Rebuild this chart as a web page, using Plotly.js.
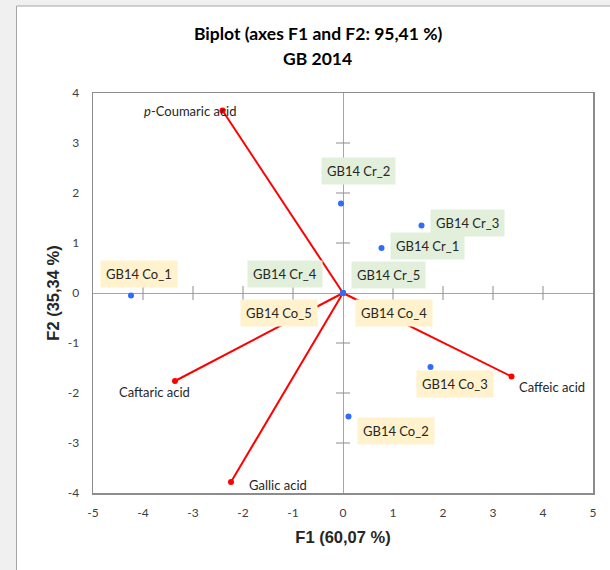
<!DOCTYPE html>
<html>
<head>
<meta charset="utf-8">
<script src="https://cdn.plot.ly/plotly-3.0.1.min.js"></script>
<style>html,body{margin:0;padding:0;background:#f0f0f0;}#chart{width:610px;height:570px;}</style>
</head>
<body>
<div id="chart"></div>
<script>
// ---- data ----
const obsNames = ["GB14 Co_1","GB14 Co_2","GB14 Co_3","GB14 Co_4","GB14 Co_5","GB14 Cr_1","GB14 Cr_2","GB14 Cr_3","GB14 Cr_4","GB14 Cr_5"];
const obsF1 = [-4.24, 0.11, 1.75, 0.00, 0.00, 0.77, -0.04, 1.57, 0.00, 0.00];
const obsF2 = [-0.05, -2.47, -1.48, 0.00, 0.00, 0.90, 1.79, 1.35, 0.00, 0.00];
const obsGroup = ["Co","Co","Co","Co","Co","Cr","Cr","Cr","Cr","Cr"];
const varNames = ["<i>p</i>-Coumaric acid","Caftaric acid","Gallic acid","Caffeic acid"];
const varF1 = [-2.41, -3.36, -2.24, 3.37];
const varF2 = [3.65, -1.76, -3.78, -1.67];
const xTicks = [-5,-4,-3,-2,-1,0,1,2,3,4,5];
const yTicks = [-4,-3,-2,-1,0,1,2,3,4];

// ---- styling / label placement (pixels) ----
const obsLabelShift = [[8,22],[47,-14],[24,-17],[51,-19.5],[-64,-19.5],[46,2],[17,33],[46,3],[-58,19],[45,18]];
const varLabelShift = [[-32,0],[-21,-11],[47,-3],[40,-10]];
const groupFill = {Co:"#fff2cc", Cr:"#e2efda"};
const tickGray = "#8c8c8c";

const traces = [];
// red vectors from origin
varNames.forEach((n,i)=>{
  traces.push({x:[0,varF1[i]], y:[0,varF2[i]], mode:"lines", type:"scatter",
    line:{color:"#ff0000", width:2}, hoverinfo:"skip", showlegend:false});
});
traces.push({x:varF1, y:varF2, mode:"markers", type:"scatter",
  marker:{color:"#ff0000", size:6}, showlegend:false, hoverinfo:"skip"});
// tick crosses on the zero axes
const xt = xTicks.filter(v=>v!==0 && Math.abs(v)<5);
const yt = yTicks.filter(v=>v!==0 && Math.abs(v)<4);
traces.push({x:xt, y:xt.map(()=>0), mode:"markers", type:"scatter",
  marker:{symbol:"line-ns-open", size:10, color:tickGray, line:{color:tickGray, width:1}}, showlegend:false, hoverinfo:"skip"});
traces.push({x:yt.map(()=>0), y:yt, mode:"markers", type:"scatter",
  marker:{symbol:"line-ew-open", size:10, color:tickGray, line:{color:tickGray, width:1}}, showlegend:false, hoverinfo:"skip"});
// observations
traces.push({x:obsF1, y:obsF2, mode:"markers", type:"scatter",
  marker:{color:"#2f6bff", size:6}, showlegend:false, hoverinfo:"skip"});

const annotations = [];
obsNames.forEach((n,i)=>{
  annotations.push({x:obsF1[i], y:obsF2[i], xref:"x", yref:"y", text:n, showarrow:false,
    xshift:obsLabelShift[i][0], yshift:obsLabelShift[i][1],
    bgcolor:groupFill[obsGroup[i]], borderpad:5,
    font:{family:"Lato, 'Open Sans', sans-serif", size:13, color:"#262626"}});
});
varNames.forEach((n,i)=>{
  annotations.push({x:varF1[i], y:varF2[i], xref:"x", yref:"y", text:n, showarrow:false,
    xshift:varLabelShift[i][0], yshift:varLabelShift[i][1],
    font:{family:"Lato, 'Open Sans', sans-serif", size:13, color:"#262626"}});
});
annotations.push({x:0.449, y:1.15, xref:"paper", yref:"paper", xanchor:"center", yanchor:"middle", showarrow:false,
  text:"<b>Biplot (axes F1 and F2: 95,41 %)</b>", font:{family:"Lato, sans-serif", size:17.5, color:"#000"}});
annotations.push({x:0.449, y:1.0875, xref:"paper", yref:"paper", xanchor:"center", yanchor:"middle", showarrow:false,
  text:"<b>GB 2014</b>", font:{family:"Lato, sans-serif", size:17.5, color:"#000"}});

const axisCommon = {
  showgrid:false, zeroline:true, zerolinecolor:"#a6a6a6", zerolinewidth:1,
  showline:true, mirror:true, linecolor:"#8c8c8c", linewidth:1.5,
  ticks:"outside", tickcolor:"rgba(0,0,0,0)",
  tickfont:{family:"Lato, 'Open Sans', sans-serif", size:12, color:"#404040"},
  fixedrange:true
};

const layout = {
  width:610, height:570,
  margin:{l:92.5, r:17.3, t:93, b:77},
  paper_bgcolor:"#f0f0f0", plot_bgcolor:"#ffffff",
  showlegend:false,
  xaxis:Object.assign({}, axisCommon, {range:[-5,5], tickvals:xTicks, ticktext:xTicks.map(String), ticklen:8,
    title:{text:"<b>F1 (60,07 %)</b>", standoff:12, font:{family:"'Liberation Sans', Arial, sans-serif", size:16.5, color:"#262626"}}}),
  yaxis:Object.assign({}, axisCommon, {range:[-4,4], tickvals:yTicks, ticktext:yTicks.map(String), ticklen:10,
    title:{text:"<b>F2 (35,34 %)</b>", standoff:4, font:{family:"'Liberation Sans', Arial, sans-serif", size:16.5, color:"#262626"}}}),
  shapes:[{type:"rect", xref:"paper", yref:"paper", x0:-0.153, x1:1.2, y0:-0.3, y1:1.2175,
    fillcolor:"#ffffff", line:{color:"#a6a6a6", width:1}, layer:"below"}],
  annotations:annotations
};

Plotly.newPlot("chart", traces, layout, {displayModeBar:false, staticPlot:true});
</script>
</body>
</html>
